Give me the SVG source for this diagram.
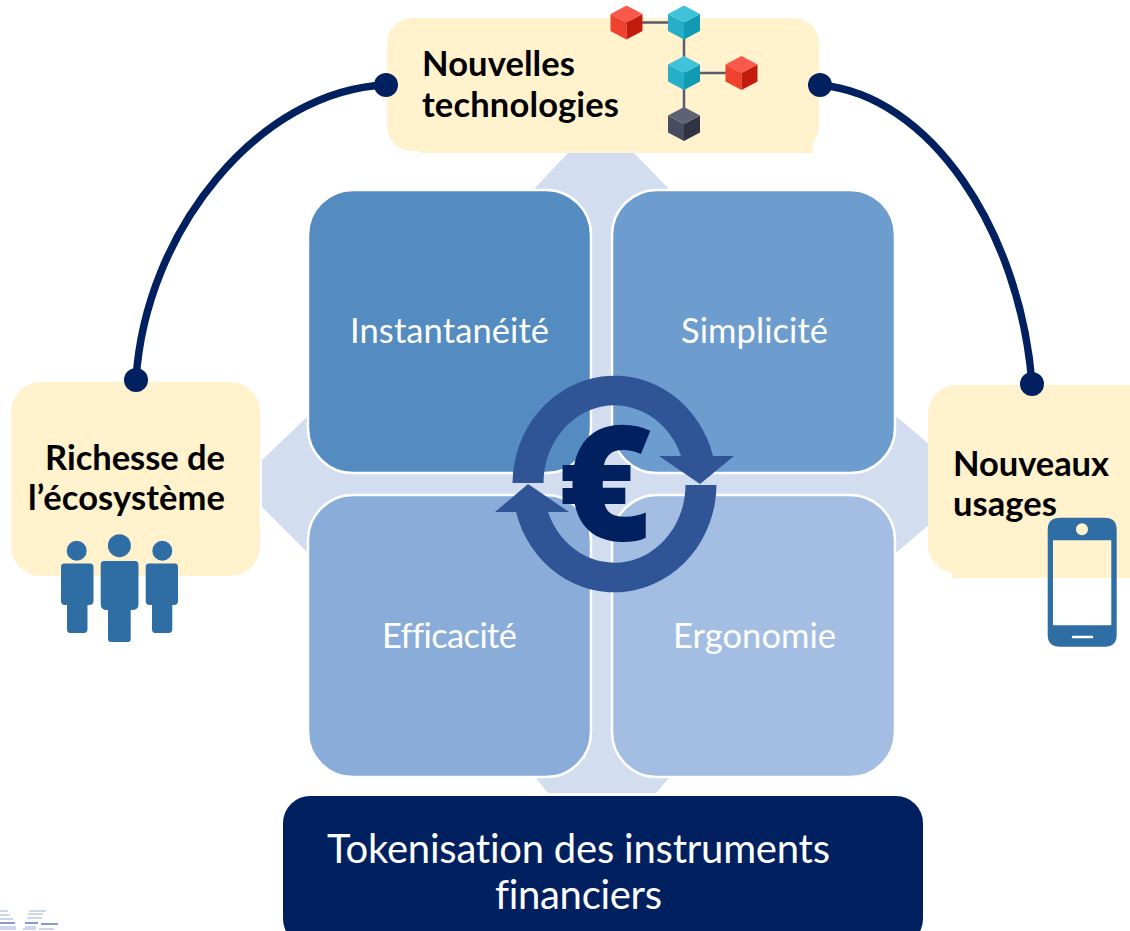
<svg xmlns="http://www.w3.org/2000/svg" width="1130" height="931" viewBox="0 0 1130 931">
<style>
text{font-variant-ligatures:none}
.y{fill:#FFF2CC}
.cell{stroke:#fff;stroke-width:2.5}
.w{font-family:"Lato","Open Sans",sans-serif;fill:#fff;font-size:34.500px;text-anchor:middle}
.t{font-size:40px}
.b{font-family:"Lato","Open Sans",sans-serif;fill:#000;font-size:34.500px;font-weight:700}
.ic{fill:#2F6EA5}
.conn{fill:none;stroke:#002060;stroke-width:7.500;stroke-linecap:round}
.dot{fill:#002060}
.lk{stroke:#555B70;stroke-width:2.500}
.lg{stroke:#BCC9E8;stroke-width:1.500}
.lg2{stroke:#5F7CC4;stroke-width:1.500}
</style>
<defs>
<g id="cr"><path fill="#F0402E" d="M-16-8.500 0 0 0 17-16 8.500Z"/><path fill="#C21C0E" d="M16-8.500 0 0 0 17 16 8.500Z"/><path fill="#F9594A" d="M0-17 16-8.500 0 0-16-8.500Z"/></g>
<g id="ct"><path fill="#25AFC8" d="M-16-8.500 0 0 0 17-16 8.500Z"/><path fill="#119BB2" d="M16-8.500 0 0 0 17 16 8.500Z"/><path fill="#3FC3DA" d="M0-17 16-8.500 0 0-16-8.500Z"/></g>
<g id="cd"><path fill="#474C5E" d="M-16-8.500 0 0 0 17-16 8.500Z"/><path fill="#2F3344" d="M16-8.500 0 0 0 17 16 8.500Z"/><path fill="#5D6274" d="M0-17 16-8.500 0 0-16-8.500Z"/></g>
</defs>

<rect width="1130" height="931" fill="#fff"/>

<g id="cross">
<path fill="#D2DDEF" d="M535 188 568 153H634L668 188V417H897L950 462V507L897 552H670V777L656 793H548L535 777V552H307L262 507V460L307 417H535Z"/>
</g>

<g id="logo">
<path class="lg" d="M0 911H8M0 915H10M0 919H13M0 927H16M0 929H16M29 911H46M28 914H43M27 918H42M25 927H36M23 929H36M39 929H54"/>
<path class="lg2" d="M0 923H15M25 923H38M41 924H58"/>
</g>

<g id="cell-instantaneite">
<rect class="cell" x="308" y="190" width="283" height="283" rx="45" fill="#548BC0"/>
<text class="w" x="449.500" y="342.500" textLength="199">Instantanéité</text>
</g>
<g id="cell-simplicite">
<rect class="cell" x="612" y="190" width="283" height="283" rx="45" fill="#6D9CCE"/>
<text class="w" x="754.500" y="342.500" textLength="147">Simplicité</text>
</g>
<g id="cell-efficacite">
<rect class="cell" x="308" y="495" width="283" height="282" rx="45" fill="#89ACD8"/>
<text class="w" x="449.500" y="647.500" textLength="135">Efficacité</text>
</g>
<g id="cell-ergonomie">
<rect class="cell" x="612" y="495" width="283" height="282" rx="45" fill="#A4BEE3"/>
<text class="w" x="754.500" y="647.500" textLength="163">Ergonomie</text>
</g>

<g id="euro-cycle">
<path fill="#2F5597" d="M512.500 483A102 108.500 0 0 1 713 456L681 456A71 78 0 0 0 543.500 483Z"/>
<path fill="#2F5597" d="M659 456H734L700 484Z"/>
<path fill="#2F5597" d="M716.500 485A102 108.500 0 0 1 516 512L548 512A71 78 0 0 0 685.500 485Z"/>
<path fill="#2F5597" d="M495 512H569L528 484Z"/>
<text x="605" y="540" font-family="Open Sans, sans-serif" font-weight="800" font-size="160" fill="#002060" text-anchor="middle">€</text>
</g>

<g id="node-tech">
<rect class="y" x="387" y="18" width="432" height="133" rx="25"/>
<rect class="y" x="420" y="120" width="393" height="33"/>
<text class="b" x="422" y="75.500" textLength="153">Nouvelles</text>
<text class="b" x="422" y="116.500" textLength="197">technologies</text>
<path class="lk" d="M626 22.500H684M684 22.500V124M684 73H741.500"/>
<use href="#cr" x="626.500" y="22.500"/>
<use href="#ct" x="684" y="22.500"/>
<use href="#ct" x="684" y="73"/>
<use href="#cr" x="741.500" y="73"/>
<use href="#cd" x="684" y="124"/>
</g>

<g id="node-ecosysteme">
<rect class="y" x="11" y="382" width="249" height="194" rx="30"/>
<text class="b" x="45" y="469.500" textLength="180">Richesse de</text>
<text class="b" x="28" y="509.500" textLength="197">l’écosystème</text>
<g class="ic">
<circle cx="76.700" cy="550.700" r="10"/>
<path d="M64 563.500H90Q93.500 563.500 93.500 567V601Q93.500 605 89 605H87.500V629Q87.500 633 84 633H70Q67 633 67 629V605H65Q61 605 61 601V567Q61 563.500 64 563.500Z"/>
<circle cx="119.400" cy="545.700" r="11.500"/>
<path d="M104 561H135Q138.500 561 138.500 565V604Q138.500 610 132 610H130.700V639Q130.700 642 128 642H111Q108 642 108 639V610H107Q100.700 610 100.700 604V565Q100.700 561 104 561Z"/>
<circle cx="162.300" cy="550.700" r="10"/>
<path d="M149 563.500H175Q178 563.500 178 567V601Q178 605 174 605H172.300V629Q172.300 633 169 633H155Q152 633 152 629V605H150Q145.700 605 145.700 601V567Q145.700 563.500 149 563.500Z"/>
</g>
</g>

<g id="node-usages">
<rect class="y" x="928" y="385" width="240" height="188" rx="28"/>
<rect class="y" x="952" y="550" width="178" height="28"/>
<text class="b" x="953" y="475.500" textLength="156">Nouveaux</text>
<text class="b" x="953" y="515.500" textLength="104">usages</text>
<path class="ic" fill-rule="evenodd" d="M1060 517.700H1104.700Q1116.700 517.700 1116.700 530V634.700Q1116.700 646.700 1104.700 646.700H1060Q1047.700 646.700 1047.700 634.700V530Q1047.700 517.700 1060 517.700ZM1053 540.300V625.300H1111.300V540.300Z"/>
<circle cx="1082" cy="529.300" r="6" fill="#FFF2CC"/>
<path d="M1073 637H1092" stroke="#fff" stroke-width="2.500" stroke-linecap="round"/>
</g>

<g id="node-tokenisation">
<rect x="283" y="796" width="640" height="150" rx="27" fill="#002060"/>
<text class="w t" x="578.500" y="862.500" textLength="503">Tokenisation des instruments</text>
<text class="w t" x="578.500" y="908.500" textLength="167">financiers</text>
</g>

<g id="connectors">
<path class="conn" d="M136 380C145 230 260 90 386 85"/>
<circle class="dot" cx="136" cy="380" r="12"/>
<circle class="dot" cx="386" cy="85" r="12"/>
<path class="conn" d="M820 85C930 95 1020 230 1032 384"/>
<circle class="dot" cx="820" cy="85" r="12"/>
<circle class="dot" cx="1032" cy="384" r="12"/>
</g>
</svg>
